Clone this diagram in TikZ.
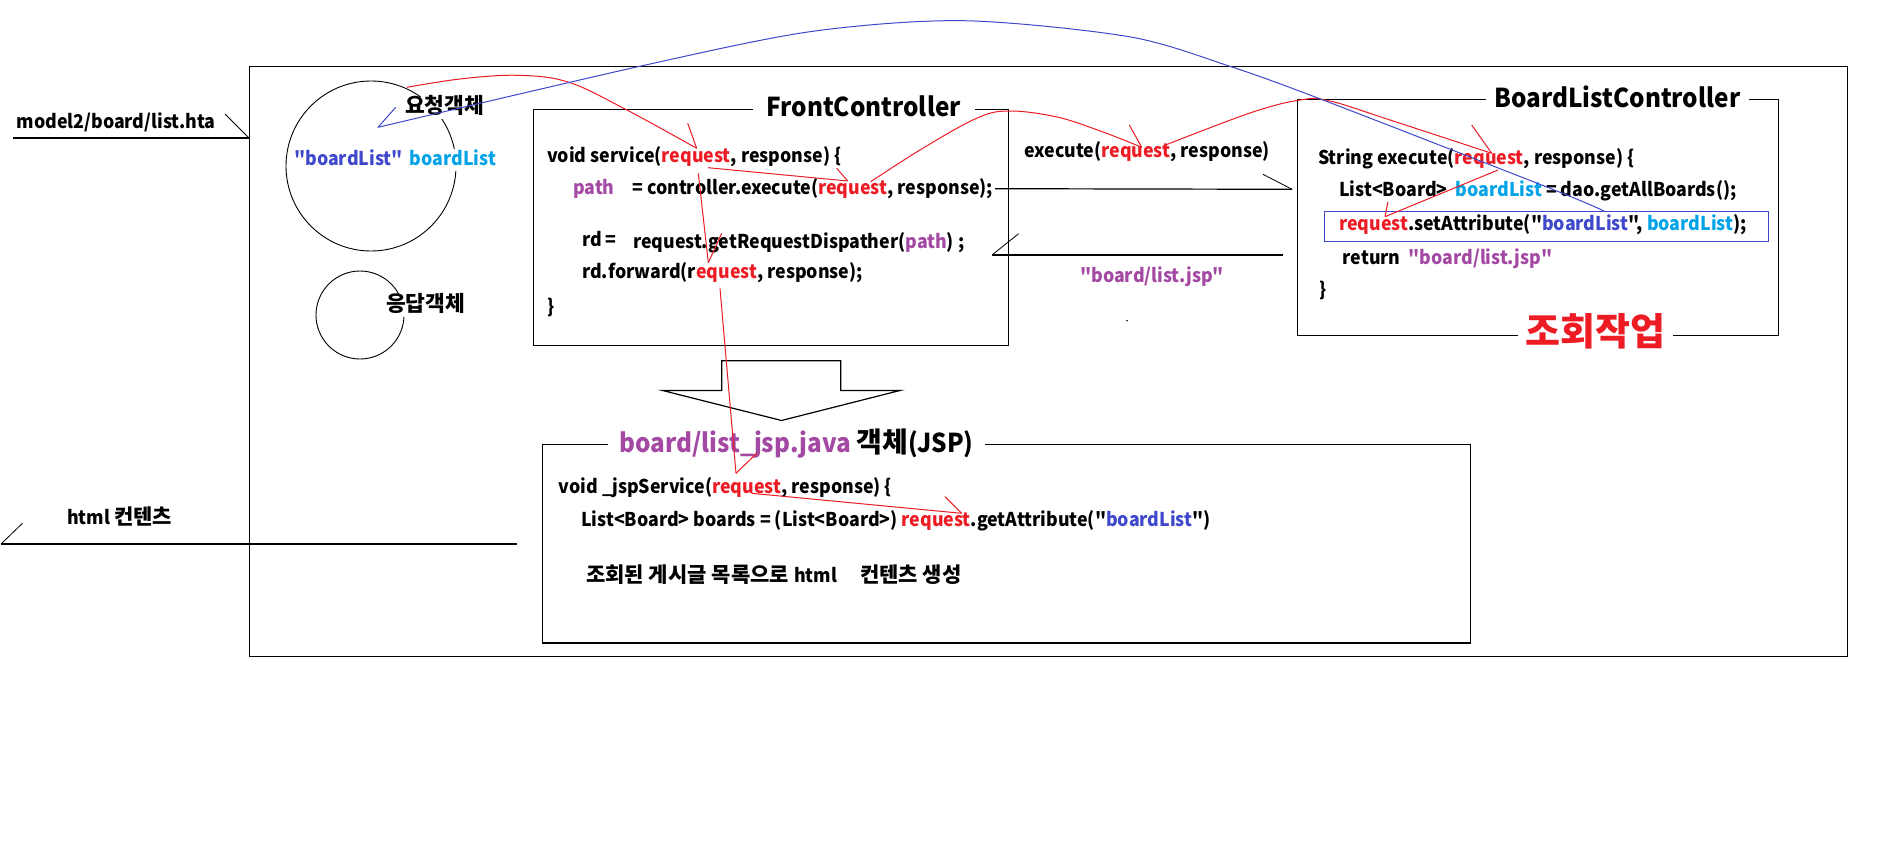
\documentclass[tikz,border=0pt]{standalone}
\usepackage{fontspec}
\setmainfont{Noto Sans CJK KR}[FakeStretch=0.935]
\newfontfamily\plainfont{Noto Sans CJK KR}[FakeStretch=0.935]
\newfontfamily\krfont{Noto Sans CJK KR}
\definecolor{pred}{HTML}{ED1C24}
\definecolor{pblue}{HTML}{3F48CC}
\definecolor{ppurp}{HTML}{A349A4}
\definecolor{pcyan}{HTML}{00A2E8}
\newcommand\codesz{\fontsize{19}{22}\selectfont\bfseries\plainfont}
\newcommand\titlesz{\fontsize{26}{30}\selectfont\bfseries\plainfont}
\newcommand\bigsz{\fontsize{38}{44}\selectfont\bfseries}
\newcommand\krtext{\fontsize{21}{24}\selectfont\krfont}
\newcommand\RQ[1]{\textcolor{pred}{#1}}
\newcommand\PU[1]{\textcolor{ppurp}{#1}}
\newcommand\BL[1]{\textcolor{pblue}{#1}}
\newcommand\CY[1]{\textcolor{pcyan}{#1}}
\newcommand\QQ{\symbol{34}}
\begin{document}
\begin{tikzpicture}[x=1pt,y=-1pt,
  box/.style={draw, line width=1.2pt, inner sep=0pt, anchor=north west},
  ring/.style={draw, circle, line width=0.9pt, inner sep=0pt},
  code/.style={font=\codesz, anchor=west, inner sep=0pt, text height=14pt, text depth=4pt},
  lbl/.style={font=\codesz, anchor=west, fill=white, inner xsep=2pt, inner ysep=2pt, text height=14pt, text depth=4pt},
  krlbl/.style={lbl, font=\fontsize{21.5}{24}\selectfont\bfseries\krfont},
  titlebox/.style={font=\titlesz, fill=white, inner sep=0pt, minimum height=26pt},
  blk/.style={draw=black, line width=1.2pt},
  redl/.style={draw=pred, line width=1pt},
  bluel/.style={draw=pblue, line width=1pt}]
\useasboundingbox (0,0) rectangle (1898,859);
\fill[white] (0,0) rectangle (1898,859);

% boxes
\node[box, minimum width=1597.5pt, minimum height=590pt] (outer) at (249,66) {};
\node[box, minimum width=475.5pt, minimum height=236.3pt] (fc) at (532.5,108.7) {};
\node[box, minimum width=481.5pt, minimum height=236.3pt] (blc) at (1296.5,98.7) {};
\node[box, minimum width=928.5pt, minimum height=198.8pt] (jsp) at (541.5,443.5) {};
\node[box, draw=pblue, minimum width=444pt, minimum height=30pt] (attrbox) at (1324,210.7) {};

% circles
\node[ring, minimum size=170pt] (reqobj) at (371,166) {};
\node[ring, minimum size=88pt] (resobj) at (360,315) {};

% titles
\node[titlebox, minimum width=222pt] (fctitle) at (863.7,106) {FrontController};
\node[titlebox, minimum width=263pt] (blctitle) at (1617.4,97) {BoardListController};
\node[titlebox, minimum width=155pt, font=\bigsz, text=pred] (jobtitle) at (1595.5,331.7) {\krfont 조회작업};
\node[titlebox, minimum width=377pt] (jsptitle) at (796.5,443.3) {\PU{board/list\_jsp.java} {\fontsize{28}{30}\selectfont\krfont 객체}(JSP)};

% left labels
\node[lbl] (urllbl) at (14.5,123) {model2/board/list.hta};
\node[lbl] (htmllbl) at (65,519.3) {html {\krtext 컨텐츠}};
\node[krlbl] (reqlbl) at (403,108) {요청객체};
\node[lbl] (attrlbl) at (292,160) {\BL{\QQ boardList\QQ}\hspace{7pt}\CY{boardList}};
\node[krlbl] (reslbl) at (384,306) {응답객체};

% FrontController code
\node[code] (fc1) at (547,157) {void service(\RQ{request}, response) \{};
\node[code] (fc2a) at (573,189) {\PU{path}};
\node[code] (fc2b) at (632,189) {= controller.execute(\RQ{request}, response);};
\node[code] (fc3a) at (582,241) {rd =};
\node[code] (fc3b) at (633,243) {request.getRequestDispather(\PU{path}) ;};
\node[code] (fc4) at (582,273) {rd.forward(r\RQ{equest}, response);};
\node[code] (fc5) at (547.5,308) {\}};

% middle labels
\node[code] (execlbl) at (1024,152) {execute(\RQ{request}, response)};
\node[code] (retlbl) at (1080,277) {\PU{\QQ board/list.jsp\QQ}};

% BoardListController code
\node[code] (b1) at (1318,159) {String execute(\RQ{request}, response) \{};
\node[code] (b2) at (1339,191) {List<Board>\ \ \CY{boardList} = dao.getAllBoards();};
\node[code] (b3) at (1339,225) {\RQ{request}.setAttribute(\QQ\BL{boardList}\QQ, \CY{boardList});};
\node[code] (b4) at (1342.5,259.3) {return \ \PU{\QQ board/list.jsp\QQ}};
\node[code] (b5) at (1319,291.7) {\}};

% JSP code
\node[code] (j1) at (558.7,488) {void \_jspService(\RQ{request}, response) \{};
\node[code] (j2) at (581,521) {List<Board> boards = (List<Board>) \RQ{request}.getAttribute(\QQ\BL{boardList}\QQ)};
\node[code] (j3) at (586,577) {\makebox[208pt][l]{\krtext 조회된 게시글 목록으로}\makebox[66pt][l]{html}{\krtext 컨텐츠 생성}};

% black connectors
\coordinate (u1) at (13,138);
\coordinate (u2) at (249,138);
\coordinate (u3) at (225,114);
\draw[blk] (u1) -- (u2);
\draw[blk, line width=0.8pt] (u3) -- (u2);

\coordinate (h1) at (1,544);
\coordinate (h2) at (517,544);
\coordinate (h3) at (22.5,523.3);
\draw[blk] (h1) -- (h2);
\draw[blk, line width=0.8pt] (h1) -- (h3);

\coordinate (e1) at (995,188.7);
\coordinate (e2) at (1292,189.3);
\coordinate (e3) at (1263,174.3);
\draw[blk] (e1) -- (e2);
\draw[blk, line width=0.8pt] (e3) -- (e2);

\coordinate (r1) at (1283,255);
\coordinate (r2) at (992,255);
\coordinate (r3) at (1018.6,233.7);
\draw[blk] (r1) -- (r2);
\draw[blk, line width=0.8pt] (r3) -- (r2);

\fill (1127,320.7) circle (0.9);

% big hollow arrow
\draw[blk] (721.7,360.7) -- (840.7,360.7) -- (840.7,390.5) -- (900,390.5)
  -- (781.5,420.5) -- (662.6,390.5) -- (721.7,390.5) -- cycle;

% red connectors
\coordinate (ra0) at (407,87.3);
\coordinate (ra1) at (696.7,148.3);
\draw[redl] plot[smooth, tension=0.6] coordinates {(ra0) (460,79) (517,75.3) (568,82) (625,109) (ra1)};
\draw[redl] (687.7,123.3) -- (ra1);

\coordinate (rb0) at (708,167.7);
\coordinate (rb1) at (847.7,181);
\draw[redl] (rb0) -- (rb1);
\draw[redl] (836.7,168.3) -- (rb1);

\coordinate (rc0) at (870.7,181.7);
\coordinate (rc1) at (1141.7,147.3);
\draw[redl] plot[smooth, tension=0.6] coordinates {(rc0) (920,150) (975,119) (1008,111) (1057,117) (1103,132) (rc1)};
\draw[redl] (1129.3,125) -- (rc1);

\coordinate (rd0) at (1163,146);
\coordinate (rd1) at (1491.7,153.3);
\draw[redl] plot[smooth, tension=0.6] coordinates {(rd0) (1250,113) (1300,100) (1330,101) (1393,121) (rd1)};
\draw[redl] (1471.7,125) -- (rd1);

\coordinate (re0) at (1498,170);
\coordinate (re1) at (1385,216.7);
\draw[redl] (re0) -- (re1);
\draw[redl] (1388,201.7) -- (re1);

\coordinate (rf0) at (698.3,173.3);
\coordinate (rf1) at (708.3,262.7);
\draw[redl] (rf0) -- (rf1);
\draw[redl] (721.7,233.3) -- (rf1);

\coordinate (rg0) at (720,288.3);
\coordinate (rg1) at (736,473.3);
\draw[redl] (rg0) -- (rg1);
\draw[redl] (757.3,452.7) -- (rg1);

\coordinate (rh0) at (751.7,493.3);
\coordinate (rh1) at (961.7,513.3);
\draw[redl] (rh0) -- (rh1);
\draw[redl] (945,496.7) -- (rh1);

% blue connector
\coordinate (bl0) at (1604,211);
\coordinate (bl1) at (378,127.3);
\draw[bluel] plot[smooth, tension=0.5] coordinates {(bl0) (1550,188.3) (1323,100) (1231,66.7) (1129,36.7) (963,20.7) (810,31.7) (638,66.7) (bl1)};
\draw[bluel] (395.7,107.3) -- (bl1);
\end{tikzpicture}
\end{document}
